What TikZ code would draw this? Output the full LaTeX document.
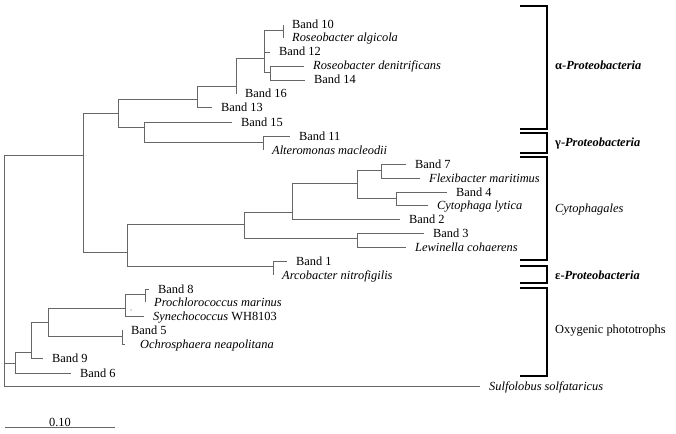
\documentclass[tikz,border=0pt]{standalone}
\usepackage{fontspec}
\setmainfont{Liberation Serif}

\tikzset{
    branch/.style={draw=black!60, line width=0.7pt},
    leaf/.style={anchor=west, inner xsep=9pt, inner ysep=0pt, text height=8pt, text depth=0pt},
    bracket/.style={line width=1.8pt},
    group/.style={anchor=west, inner sep=0pt, text height=8pt, text depth=0pt},
}

\begin{document}
\begin{tikzpicture}[x=1pt, y=-1pt, font=\fontsize{12.4}{14}\selectfont]
    \useasboundingbox (0,0) rectangle (676,433);

    %Inner nodes of the tree
    \coordinate (root) at (4,270);
    \coordinate (nA) at (83,155);
    \coordinate (nB) at (118,113);
    \coordinate (nC) at (197,99);
    \coordinate (nD) at (236,86);
    \coordinate (nE) at (264,58);
    \coordinate (nF) at (283,30);
    \coordinate (nG) at (270,72);
    \coordinate (nH) at (144,127);
    \coordinate (nI) at (263,142);
    \coordinate (nJ) at (127,252);
    \coordinate (nL) at (244,224);
    \coordinate (nM) at (292,212);
    \coordinate (nO) at (357,183);
    \coordinate (nP) at (381,170);
    \coordinate (nQ) at (396,198);
    \coordinate (nN) at (357,238);
    \coordinate (nK) at (273,266);
    \coordinate (nR) at (15,363);
    \coordinate (nS) at (31,352);
    \coordinate (nT) at (48,322);
    \coordinate (nU) at (125,308);
    \coordinate (nW) at (145,294);
    \coordinate (nV) at (122,336);

    %Leaves
    \node[leaf] (b10)  at (283,25)  {Band 10};
    \node[leaf] (ralg) at (283,38)  {\textit{Roseobacter algicola}};
    \node[leaf] (b12)  at (270,52)  {Band 12};
    \node[leaf] (rden) at (304,66)  {\textit{Roseobacter denitrificans}};
    \node[leaf] (b14)  at (305,80)  {Band 14};
    \node[leaf] (b16)  at (236,94)  {Band 16};
    \node[leaf] (b13)  at (212,107) {Band 13};
    \node[leaf] (b15)  at (232,122) {Band 15};
    \node[leaf] (b11)  at (290,136) {Band 11};
    \node[leaf] (amac) at (263,150) {\textit{Alteromonas macleodii}};
    \node[leaf] (b7)   at (406,164) {Band 7};
    \node[leaf] (fmar) at (420,178) {\textit{Flexibacter maritimus}};
    \node[leaf] (b4)   at (447,192) {Band 4};
    \node[leaf] (clyt) at (428,205) {\textit{Cytophaga lytica}};
    \node[leaf] (b2)   at (400,219) {Band 2};
    \node[leaf] (b3)   at (424,233) {Band 3};
    \node[leaf] (lcoh) at (406,247) {\textit{Lewinella cohaerens}};
    \node[leaf] (b1)   at (287,261) {Band 1};
    \node[leaf] (anit) at (273,275) {\textit{Arcobacter nitrofigilis}};
    \node[leaf] (b8)   at (149,289) {Band 8};
    \node[leaf] (pmar) at (145,302) {\textit{Prochlorococcus marinus}};
    \node[leaf] (syn)  at (144,316) {\textit{Synechococcus} WH8103};
    \node[leaf] (b5)   at (122,330) {Band 5};
    \node[leaf, inner xsep=15pt] (ochr) at (125,344) {\textit{Ochrosphaera neapolitana}};
    \node[leaf] (b9)   at (43,358)  {Band 9};
    \node[leaf] (b6)   at (71,373)  {Band 6};
    \node[leaf] (sulf) at (480,386) {\textit{Sulfolobus solfataricus}};

    %Branches, parent to child
    \foreach \p/\c in {root/nA, root/nR, root/sulf, nA/nB, nA/nJ, nB/nC, nB/nH,
                       nC/nD, nC/b13, nD/nE, nD/b16, nE/nF, nE/b12, nE/nG,
                       nF/b10, nF/ralg, nG/rden, nG/b14, nH/b15, nH/nI,
                       nI/b11, nI/amac, nJ/nL, nJ/nK, nL/nM, nL/nN, nM/nO, nM/b2,
                       nO/nP, nO/nQ, nP/b7, nP/fmar, nQ/b4, nQ/clyt, nN/b3, nN/lcoh,
                       nK/b1, nK/anit, nR/nS, nR/b6, nS/nT, nS/b9, nT/nU, nT/nV,
                       nU/nW, nU/syn, nW/b8, nW/pmar, nV/b5, nV/ochr} {
        \draw[branch] (\p) |- (\c);
    }
    \fill[black!60] (131,310) circle (0.7);

    %Group brackets
    \foreach \t/\b in {6/129, 133/153, 157/260, 266/283, 288/376} {
        \draw[bracket] (520,\t) -- (547,\t) -- (547,\b) -- (520,\b);
    }
    \node[group] (alpha) at (555,66)  {\textbf{α-\textit{Proteobacteria}}};
    \node[group] (gamma) at (555,142) {\textbf{γ-\textit{Proteobacteria}}};
    \node[group] (cyto)  at (555,208) {\textit{Cytophagales}};
    \node[group] (eps)   at (555,275) {\textbf{ε-\textit{Proteobacteria}}};
    \node[group] (oxy)   at (555,329) {Oxygenic phototrophs};

    %Scale bar
    \coordinate (sbl) at (5,427);
    \coordinate (sbr) at (115,427);
    \draw[branch] (sbl) -- (sbr);
    \node[anchor=south, inner sep=0pt] (sbt) at (60,427) {0.10};
\end{tikzpicture}
\end{document}
